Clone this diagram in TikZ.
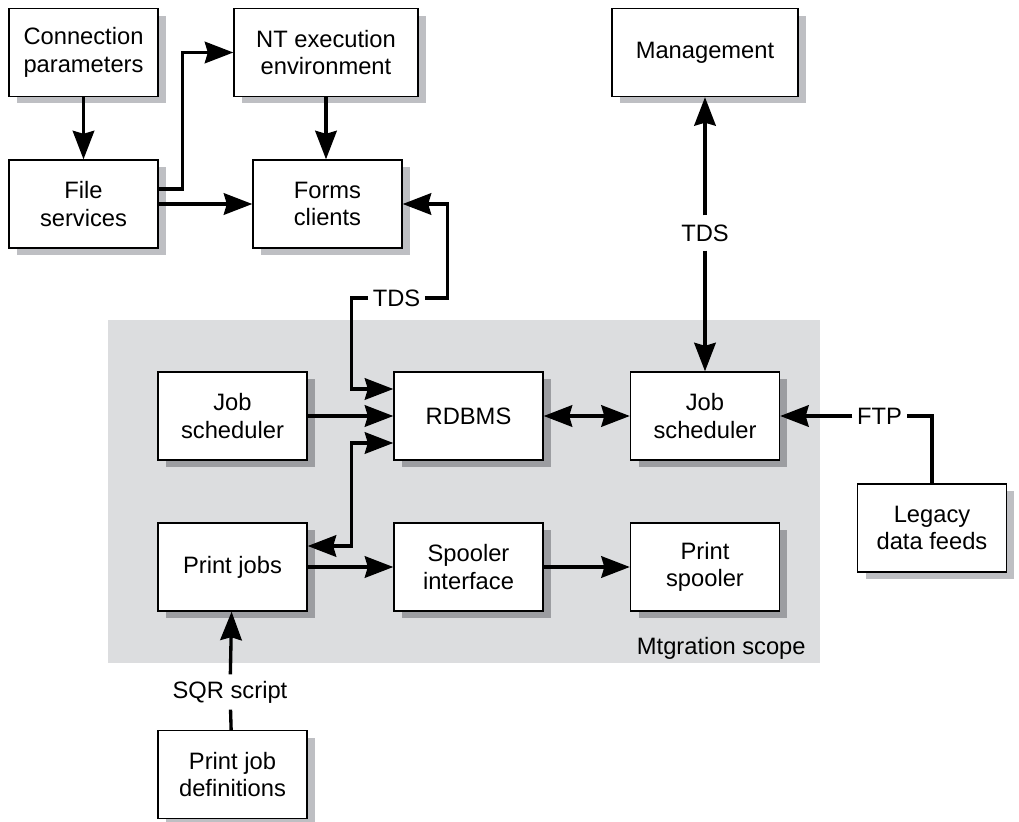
\documentclass[tikz,border=0pt]{standalone}
\usepackage{fontspec}
\setmainfont{Liberation Sans}
\usetikzlibrary{arrows.meta,calc,shadows}
\definecolor{scopegray}{RGB}{220,221,223}
\definecolor{outshadow}{RGB}{190,191,195}
\definecolor{inshadow}{RGB}{156,157,161}

\begin{document}
\begin{tikzpicture}[x=0.02cm, y=-0.02cm,
	every node/.style={font=\fontsize{13.5}{15.6}\selectfont},
	block/.style={draw, line width=0.8pt, fill=white, align=center,
		minimum width=2.98cm, minimum height=1.76cm, inner sep=2pt,
		drop shadow={shadow xshift=0.16cm, shadow yshift=-0.14cm, fill=#1, opacity=1}},
	block/.default=outshadow,
	lbl/.style={fill=white, inner xsep=2.5pt, inner ysep=2.5pt},
	wire/.style={line width=1.9pt},
	arr/.style={wire, -{Stealth[length=0.57cm, width=0.43cm, inset=0.06cm]}},
	biarr/.style={wire, {Stealth[length=0.57cm, width=0.43cm, inset=0.06cm]}-{Stealth[length=0.57cm, width=0.43cm, inset=0.06cm]}}]
	\useasboundingbox (0,0) rectangle (1019,822);
	% migration scope
	\fill[scopegray] (108,320) rectangle (820,663);
	\node[anchor=base east, inner sep=0pt] (scopelbl) at (806,654) {Mtgration scope};
	% boxes
	\node[block] (conn) at (83.5,52.5) {Connection\\parameters};
	\node[block, minimum width=3.68cm] (nt) at (326,52.5) {NT execution\\environment};
	\node[block, minimum width=3.72cm] (mgmt) at (705,52.5) {Management};
	\node[block] (files) at (83.5,204) {File\\services};
	\node[block] (forms) at (327.5,204) {Forms\\clients};
	\node[block=inshadow] (jobsL) at (232.5,416) {Job\\scheduler};
	\node[block=inshadow] (rdbms) at (468.5,416) {RDBMS};
	\node[block=inshadow] (jobsR) at (705,416) {Job\\scheduler};
	\node[block] (legacy) at (932,528) {Legacy\\data feeds};
	\node[block=inshadow] (printjobs) at (232.5,567) {Print jobs};
	\node[block=inshadow] (spooliface) at (468.5,567) {Spooler\\interface};
	\node[block=inshadow] (printspool) at (705,567) {Print\\spooler};
	\node[block] (printdefs) at (232.5,774.5) {Print job\\definitions};
	% connector labels
	\node[lbl] (tdsforms) at (396.5,298) {TDS};
	\node[lbl, inner ysep=5pt] (tdsmgmt) at (705,233) {TDS};
	\node[lbl] (ftp) at (879.5,416) {FTP};
	\node[lbl, inner ysep=3.5pt] (sqr) at (230,692) {SQR script};
	% connectors
	\draw[arr] (conn) -- (files);
	\draw[arr] ($(files.east)+(0,-15)$) -- ++(24,0) |- (nt.west);
	\draw[arr] (files.east) -- (forms.west);
	\draw[arr] (nt.south) -- (nt.south |- forms.north);
	\draw[arr] (tdsmgmt) -- (mgmt);
	\draw[arr] (tdsmgmt) -- (jobsR);
	\draw[arr] (tdsforms.east) -| ($(forms.east)+(45,0)$) -- (forms.east);
	\draw[arr] (tdsforms.west) -| ($(rdbms.west)+(-42,-27)$) -- ($(rdbms.west)+(0,-27)$);
	\draw[arr] (jobsL) -- (rdbms);
	\draw[biarr] ($(printjobs.east)+(0,-21)$) -| ($(rdbms.west)+(-42,27)$) -- ($(rdbms.west)+(0,27)$);
	\draw[biarr] (rdbms) -- (jobsR);
	\draw[wire] (legacy.north) |- (ftp.east);
	\draw[arr] (ftp.west) -- (jobsR.east);
	\draw[arr] (printjobs) -- (spooliface);
	\draw[arr] (spooliface) -- (printspool);
	\draw[wire] (printdefs) -- (sqr);
	\draw[arr] (sqr) -- (printjobs);
\end{tikzpicture}
\end{document}
